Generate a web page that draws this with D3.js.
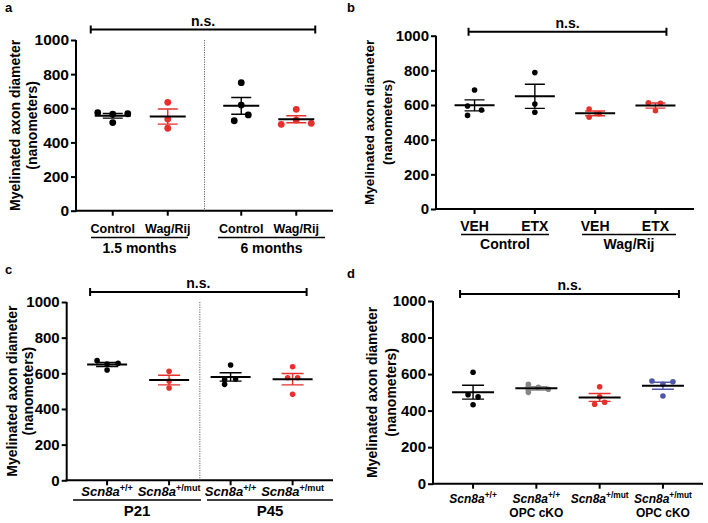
<!DOCTYPE html>
<html><head><meta charset="utf-8">
<script src="https://cdn.jsdelivr.net/npm/d3@7"></script>
<style>
html,body{margin:0;padding:0;background:#fff;}
svg{display:block;font-family:"Liberation Sans",Arial,Helvetica,sans-serif;font-weight:bold;}
</style></head>
<body>
<svg id="chart" width="708" height="523"></svg>
<script>
// ---------------- DATA ----------------
const yTicks = [0, 200, 400, 600, 800, 1000];
const yTitle1 = "Myelinated axon diameter";
const yTitle2 = "(nanometers)";
const sigLabel = "n.s.";

// Panel a
const aGroups = ["1.5 months", "6 months"];
const aCategories = ["Control", "Wag/Rij", "Control", "Wag/Rij"];
const aCatGroup = [0, 0, 1, 1];
const aValues = [[574, 565, 516, 568], [635, 537, 483], [750, 619, 561, 527], [594, 531, 506, 512]];
const aJitter = [[-15, 0, 0, 15], [0, 0, 0], [0, 0, 7, -7], [0, 0, -15, 15]];
const aColors = ["black", "red", "black", "red"];

// Panel b
const bGroups = ["Control", "Wag/Rij"];
const bCategories = ["VEH", "ETX", "VEH", "ETX"];
const bCatGroup = [0, 0, 1, 1];
const bValues = [[687, 594, 571, 540], [787, 606, 558], [577, 550, 529], [613, 610, 567]];
const bJitter = [[0, -7, 7, -7], [0, 0, 0], [-6, 4, -6], [-7, 5, 0]];
const bColors = ["black", "black", "red", "red"];

// Panel c
const cGroups = ["P21", "P45"];
const cCategories = [["Scn8a", "+/+"], ["Scn8a", "+/mut"], ["Scn8a", "+/+"], ["Scn8a", "+/mut"]];
const cCatGroup = [0, 0, 1, 1];
const cValues = [[671, 652, 619, 656], [611, 557, 518], [647, 566, 568, 538], [637, 575, 575, 482]];
const cJitter = [[-10, 0, 0, 11], [0, 0, 0], [0, -6, 5, -6], [0, -5, 5, 0]];
const cColors = ["black", "red", "black", "red"];

// Panel d
const dGroups = [""];
const dCategories = [["Scn8a", "+/+", ""], ["Scn8a", "+/+", "OPC cKO"], ["Scn8a", "+/mut", ""], ["Scn8a", "+/mut", "OPC cKO"]];
const dCatGroup = [0, 0, 0, 0];
const dValues = [[610, 487, 475, 432], [544, 528, 517, 500], [531, 476, 446, 435], [562, 558, 544, 480]];
const dJitter = [[0, -5, 5, 0], [-8, 2, 12, -8], [0, 0, 5, -5], [-11, 10, 0, 0]];
const dColors = ["black", "grey", "red", "blue"];

// ---------------- STYLE ----------------
const palette = { black: "#000000", red: "#e5302c", grey: "#858585", blue: "#4f58a8" };

const svg = d3.select("#chart");

function drawPanel(cfg) {
  const g = svg.append("g");
  const y = d3.scaleLinear().domain([0, 1000]).range([cfg.yBottom, cfg.yTop]);
  const outer = d3.scaleBand().domain(d3.range(cfg.groups.length))
    .range([cfg.x0, cfg.x1]).paddingInner(0).paddingOuter(cfg.po);
  const inner = cfg.groups.map((_, gi) => {
    const idx = cfg.catGroup.map((gg, i) => gg === gi ? i : -1).filter(i => i >= 0);
    return d3.scalePoint().domain(idx).range([0, outer.bandwidth()]).padding(cfg.pi);
  });
  const xPos = i => outer(cfg.catGroup[i]) + inner[cfg.catGroup[i]](i);

  // panel letter
  g.append("text").attr("x", cfg.letterX).attr("y", cfg.letterY)
    .attr("font-size", 13).text(cfg.letter);

  // y axis
  const ya = g.append("g").attr("transform", `translate(${cfg.x0},0)`)
    .call(d3.axisLeft(y).tickValues(yTicks).tickFormat(d3.format("d")).tickSize(5).tickSizeOuter(0).tickPadding(2));
  ya.select(".domain").attr("stroke-width", 2).attr("d", `M0,${cfg.yBottom + 1}V${cfg.yTop}`);
  ya.selectAll(".tick line").attr("stroke-width", 2);
  ya.selectAll(".tick text").attr("font-size", cfg.tickFont).attr("font-weight", "bold")
    .attr("font-family", "Liberation Sans, Arial, sans-serif").attr("fill", "#000");

  // y title
  const ymid = (cfg.yTop + cfg.yBottom) / 2;
  g.append("text").attr("transform", `translate(${cfg.t1x},${ymid}) rotate(-90)`)
    .attr("text-anchor", "middle").attr("font-size", cfg.titleFont).text(yTitle1);
  g.append("text").attr("transform", `translate(${cfg.t2x},${ymid}) rotate(-90)`)
    .attr("text-anchor", "middle").attr("font-size", cfg.titleFont).text(yTitle2);

  // x axis
  g.append("line").attr("x1", cfg.x0 - 1).attr("x2", cfg.x1).attr("y1", cfg.yBottom).attr("y2", cfg.yBottom)
    .attr("stroke", "#000").attr("stroke-width", 2);
  cfg.cats.forEach((c, i) => {
    g.append("line").attr("x1", xPos(i)).attr("x2", xPos(i))
      .attr("y1", cfg.yBottom).attr("y2", cfg.yBottom + 5)
      .attr("stroke", "#000").attr("stroke-width", 2);
  });

  // divider
  if (cfg.divider) {
    const xd = outer(1);
    g.append("line").attr("x1", xd).attr("x2", xd).attr("y1", cfg.yTop).attr("y2", cfg.yBottom)
      .attr("stroke", "#666").attr("stroke-width", 1).attr("stroke-dasharray", "1.2,1.2");
  }

  // category labels
  cfg.cats.forEach((c, i) => {
    const t = g.append("text").attr("x", xPos(i)).attr("y", cfg.catY)
      .attr("text-anchor", "middle").attr("font-size", cfg.catFont);
    if (typeof c === "string") { t.text(c); }
    else {
      t.append("tspan").attr("font-style", "italic").text(c[0]);
      t.append("tspan").attr("font-size", cfg.catFont * 0.7).attr("dy", -cfg.catFont * 0.38).text(c[1]);
      if (c[2]) {
        g.append("text").attr("x", xPos(i)).attr("y", cfg.catY + cfg.catFont * 1.15)
          .attr("text-anchor", "middle").attr("font-size", cfg.catFont).text(c[2]);
      }
    }
  });

  // group lines + labels
  if (cfg.groupLines) {
    cfg.groups.forEach((gn, gi) => {
      const gl = cfg.groupLines[gi];
      g.append("line").attr("x1", gl[0]).attr("x2", gl[1]).attr("y1", cfg.groupLineY).attr("y2", cfg.groupLineY)
        .attr("stroke", "#000").attr("stroke-width", 1.6);
      g.append("text").attr("x", (gl[0] + gl[1]) / 2).attr("y", cfg.groupLabelY)
        .attr("text-anchor", "middle").attr("font-size", cfg.groupFont).text(gn);
    });
  }

  // significance bracket
  const bx0 = xPos(0) - cfg.bracketPad[0], bx1 = xPos(cfg.cats.length - 1) + cfg.bracketPad[1];
  g.append("path").attr("d", `M${bx0},${cfg.bracketY - 4}V${cfg.bracketY + 4}M${bx0},${cfg.bracketY}H${bx1}M${bx1},${cfg.bracketY - 4}V${cfg.bracketY + 4}`)
    .attr("stroke", "#000").attr("stroke-width", 2).attr("fill", "none");
  g.append("text").attr("x", (bx0 + bx1) / 2).attr("y", cfg.bracketY - 4)
    .attr("text-anchor", "middle").attr("font-size", 14).text(sigLabel);

  // dots, mean, SEM
  cfg.values.forEach((vals, i) => {
    const col = palette[cfg.colors[i]];
    const cx = xPos(i);
    const m = d3.mean(vals);
    const sem = d3.deviation(vals) / Math.sqrt(vals.length);
    vals.forEach((v, j) => {
      g.append("circle").attr("cx", cx + cfg.jitter[i][j]).attr("cy", y(v)).attr("r", cfg.r).attr("fill", col);
    });
    g.append("path").attr("d",
      `M${cx},${y(m + sem)}V${y(m - sem)}M${cx - cfg.capHalf},${y(m + sem)}H${cx + cfg.capHalf}M${cx - cfg.capHalf},${y(m - sem)}H${cx + cfg.capHalf}`)
      .attr("stroke", col).attr("stroke-width", 1.4).attr("fill", "none");
    g.append("line").attr("x1", cx - cfg.meanHalf).attr("x2", cx + cfg.meanHalf)
      .attr("y1", y(m)).attr("y2", y(m)).attr("stroke", "#000").attr("stroke-width", 2);
  });
}

drawPanel({
  letter: "a", letterX: 5, letterY: 12,
  x0: 76, x1: 333, yTop: 40, yBottom: 210.7, po: 0, pi: 0.668,
  groups: aGroups, cats: aCategories, catGroup: aCatGroup, values: aValues, jitter: aJitter, colors: aColors,
  divider: true, t1x: 20, t2x: 37, titleFont: 14, tickFont: 15.5,
  catY: 233, catFont: 12.5, groupLineY: 237.5, groupLabelY: 253, groupFont: 14,
  groupLines: [[91, 188], [218, 325]],
  bracketY: 29.5, bracketPad: [22, 19],
  r: 3.4, meanHalf: 18, capHalf: 10
});

drawPanel({
  letter: "b", letterX: 347, letterY: 12,
  x0: 436, x1: 694, yTop: 35.7, yBottom: 209, po: 0.0697, pi: 0.5,
  groups: bGroups, cats: bCategories, catGroup: bCatGroup, values: bValues, jitter: bJitter, colors: bColors,
  divider: false, t1x: 374, t2x: 392, titleFont: 13.5, tickFont: 15,
  catY: 231, catFont: 14, groupLineY: 234.5, groupLabelY: 248.5, groupFont: 14,
  groupLines: [[461, 549], [582, 676]],
  bracketY: 31.7, bracketPad: [6, 11],
  r: 2.8, meanHalf: 20, capHalf: 10
});

drawPanel({
  letter: "c", letterX: 5, letterY: 274,
  x0: 66.7, x1: 333, yTop: 302, yBottom: 480.3, po: 0.078, pi: 0.496,
  groups: cGroups, cats: cCategories, catGroup: cCatGroup, values: cValues, jitter: cJitter, colors: cColors,
  divider: true, t1x: 17, t2x: 33, titleFont: 14, tickFont: 15,
  catY: 496, catFont: 13, groupLineY: 500, groupLabelY: 516, groupFont: 15,
  groupLines: [[73, 201], [207, 333]],
  bracketY: 292, bracketPad: [17, 14],
  r: 2.8, meanHalf: 20, capHalf: 11
});

drawPanel({
  letter: "d", letterX: 347, letterY: 278,
  x0: 433, x1: 703, yTop: 301, yBottom: 483.7, po: 0, pi: 0.633,
  groups: dGroups, cats: dCategories, catGroup: dCatGroup, values: dValues, jitter: dJitter, colors: dColors,
  divider: false, t1x: 377, t2x: 396, titleFont: 14, tickFont: 15,
  catY: 503, catFont: 12, groupLines: null,
  bracketY: 294, bracketPad: [13, 16],
  r: 2.8, meanHalf: 21, capHalf: 11
});
</script>
</body></html>
